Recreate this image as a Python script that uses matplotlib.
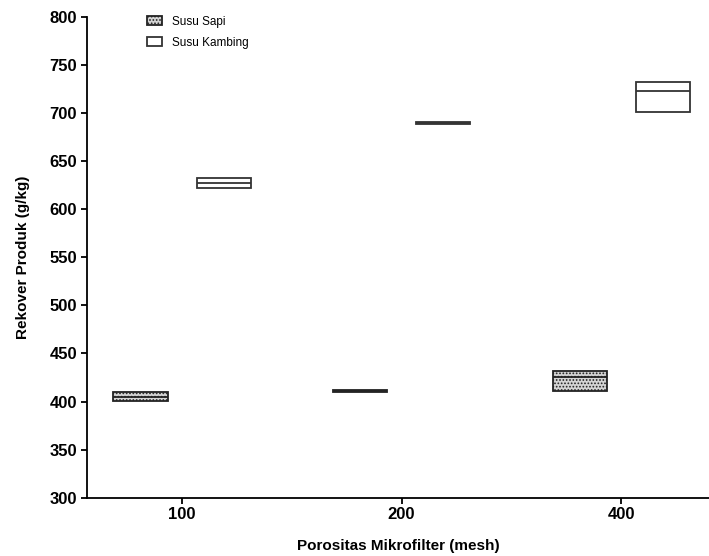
import matplotlib.pyplot as plt
import numpy as np

plt.rcParams['font.family'] = ['Liberation Sans', 'DejaVu Sans']
plt.rcParams['hatch.color'] = '#8a8a8a'
plt.rcParams['hatch.linewidth'] = 0.8

mesh = ['100', '200', '400']

# floating bars: min, median, max (g/kg)
sapi_min = [400.3, 409.5, 410.5]
sapi_med = [404.5, 410.5, 426.0]
sapi_max = [409.7, 411.5, 431.5]

kambing_min = [622.0, 688.6, 700.7]
kambing_med = [627.5, 689.6, 723.0]
kambing_max = [632.5, 690.6, 732.6]

x = np.arange(len(mesh))
width = 0.246
off = 0.189

fig = plt.figure(figsize=(7.09, 5.56), dpi=100)
ax = fig.add_axes([0.1223, 0.1049, 0.8777, 0.8645])

sapi_h = [b - a for a, b in zip(sapi_min, sapi_max)]
kamb_h = [b - a for a, b in zip(kambing_min, kambing_max)]
ax.bar(x - off, sapi_h, width, bottom=sapi_min, facecolor='#d4d4d4',
       edgecolor='#222222', linewidth=1.3, hatch='.....', label='Susu Sapi', zorder=3)
ax.bar(x + off, kamb_h, width, bottom=kambing_min, facecolor='white',
       edgecolor='#333333', linewidth=1.3, label='Susu Kambing', zorder=3)
ax.hlines(sapi_med, x - off - width/2, x - off + width/2, color='#222222', lw=1.3, zorder=4)
ax.hlines(kambing_med, x + off - width/2, x + off + width/2, color='#333333', lw=1.3, zorder=4)

ax.set_xlim(-0.434, 2.40)
ax.set_ylim(300, 800)
ax.set_yticks(np.arange(300, 801, 50))
ax.set_xticks(x)
ax.set_xticklabels(mesh)
for s in ['top', 'right']:
    ax.spines[s].set_visible(False)
for s in ['left', 'bottom']:
    ax.spines[s].set_linewidth(1.3)
ax.tick_params(direction='out', length=4, width=1.3, labelsize=12, pad=3)
for lab in ax.get_xticklabels() + ax.get_yticklabels():
    lab.set_fontweight('bold')

ax.set_ylabel('Rekover Produk (g/kg)', fontsize=11, fontweight='bold', labelpad=14)
ax.set_xlabel('Porositas Mikrofilter (mesh)', fontsize=11, fontweight='bold', labelpad=12)

ax.legend(loc='upper left', bbox_to_anchor=(0.08, 1.025), frameon=False, fontsize=8.5,
          handlelength=1.3, handleheight=0.8, labelspacing=0.8)

fig.savefig('out.png', dpi=100)
